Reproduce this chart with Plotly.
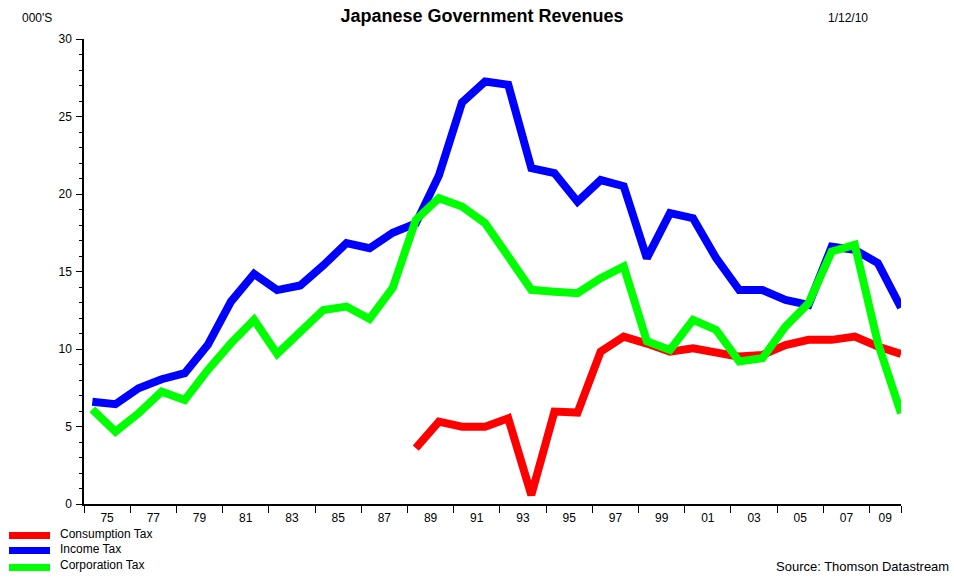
import plotly.graph_objects as go

# ---------------- data ----------------
years = list(range(1975, 2011))
series_names = ["Consumption Tax", "Income Tax", "Corporation Tax"]
series_colors = ["#ff0000", "#0000ff", "#00ff00"]

consumption_tax = [None] * 14 + [
    3.6, 5.31, 4.99, 4.99, 5.53, 0.58, 5.96, 5.9, 9.83, 10.8, 10.35,
    9.83, 10.05, 9.83, 9.51, 9.62, 10.26, 10.59, 10.59, 10.8, 10.16, 9.68]
income_tax = [
    6.6, 6.44, 7.47, 8.05, 8.44, 10.27, 13.06, 14.85, 13.8, 14.1, 15.4, 16.83,
    16.5, 17.5, 18.1, 21.2, 25.9, 27.26, 27.05, 21.67, 21.35, 19.5, 20.9, 20.5,
    15.86, 18.77, 18.44, 15.86, 13.8, 13.8, 13.17, 12.85, 16.6, 16.4, 15.54, 12.67]
corporation_tax = [
    6.11, 4.67, 5.85, 7.25, 6.71, 8.65, 10.37, 11.88, 9.68, 11.02, 12.52, 12.74,
    11.94, 13.94, 18.33, 19.73, 19.19, 18.12, 15.97, 13.82, 13.7, 13.6, 14.57, 15.32,
    10.5, 9.94, 11.88, 11.23, 9.19, 9.4, 11.45, 12.96, 16.29, 16.72, 10.37, 5.86]

x_tick_labels = ["75", "77", "79", "81", "83", "85", "87", "89", "91",
                 "93", "95", "97", "99", "01", "03", "05", "07", "09"]
y_tick_values = [0, 5, 10, 15, 20, 25, 30]

title_text = "Japanese Government Revenues"
units_text = "000'S"
date_text = "1/12/10"
source_text = "Source: Thomson Datastream"

# ---------------- layout geometry ----------------
W, H = 954, 577
ML, MR, MT, MB = 84, 53, 39, 73
PW, PH = W - ML - MR, H - MT - MB
X0, X1 = 1974.64, 2010.0
boundaries = [X0 + 2 * k for k in range(len(x_tick_labels))] + [X1]
label_pos = [(boundaries[k] + boundaries[k + 1]) / 2 for k in range(len(x_tick_labels))]

FONT = "Liberation Sans, Arial, sans-serif"

def px_x(p):
    return (p - ML) / PW

def px_y(p):
    return (H - MB - p) / PH

fig = go.Figure()
for name, color, vals in zip(series_names, series_colors,
                             [consumption_tax, income_tax, corporation_tax]):
    fig.add_trace(go.Scatter(
        x=years, y=vals, mode="lines", name=name,
        line=dict(color=color, width=8), connectgaps=False,
        showlegend=False))

# manual legend
legend_rows = [535.5, 550.5, 567.5]
text_rows = [533.5, 549, 564.5]
for name, color, ly, ty in zip(series_names, series_colors, legend_rows, text_rows):
    fig.add_shape(type="line", xref="paper", yref="paper",
                  x0=px_x(9), x1=px_x(50), y0=px_y(ly), y1=px_y(ly),
                  line=dict(color=color, width=7))
    fig.add_annotation(text=name, xref="paper", yref="paper",
                       x=px_x(58), y=px_y(ty), xanchor="left", yanchor="middle",
                       showarrow=False, font=dict(family=FONT, size=12, color="#000"))

fig.add_annotation(text=units_text, xref="paper", yref="paper",
                   x=px_x(20), y=px_y(18), xanchor="left", yanchor="middle",
                   showarrow=False, font=dict(family=FONT, size=12, color="#000"))
fig.add_annotation(text=date_text, xref="paper", yref="paper",
                   x=px_x(848), y=px_y(18), xanchor="center", yanchor="middle",
                   showarrow=False, font=dict(family=FONT, size=12, color="#000"))
fig.add_annotation(text=source_text, xref="paper", yref="paper",
                   x=px_x(951), y=px_y(566), xanchor="right", yanchor="middle",
                   showarrow=False, font=dict(family=FONT, size=13, color="#000"))

fig.update_layout(
    width=W, height=H, autosize=False,
    margin=dict(l=ML, r=MR, t=MT, b=MB, pad=0),
    paper_bgcolor="white", plot_bgcolor="white",
    title=dict(text="<b>" + title_text + "</b>", xref="container", yref="container",
               x=482 / W, y=1 - 16 / H, xanchor="center", yanchor="middle",
               font=dict(family=FONT, size=18, color="#000")),
    xaxis=dict(range=[X0, X1], showgrid=False, zeroline=False,
               showline=True, linecolor="#000", linewidth=1.5,
               tickmode="array", tickvals=label_pos, ticktext=x_tick_labels,
               ticks="", ticklen=0, ticklabelstandoff=2,
               tickfont=dict(family=FONT, size=12, color="#000"),
               minor=dict(tickmode="array", tickvals=boundaries, ticks="outside",
                          ticklen=7, tickwidth=1.2, tickcolor="#000", showgrid=False)),
    yaxis=dict(range=[0, 30], showgrid=False, zeroline=False,
               showline=True, linecolor="#000", linewidth=1.5,
               tickmode="array", tickvals=y_tick_values,
               ticks="outside", ticklen=6, tickwidth=1.2, tickcolor="#000",
               ticklabelstandoff=2,
               tickfont=dict(family=FONT, size=12, color="#000"),
               minor=dict(dtick=1, tick0=0, ticks="outside", ticklen=3,
                          tickwidth=1, tickcolor="#000", showgrid=False)),
)

fig.write_html(
    "out.html",
    config={"displayModeBar": False},
    post_script="document.body.style.margin='0px';document.body.style.overflow='hidden';",
)
